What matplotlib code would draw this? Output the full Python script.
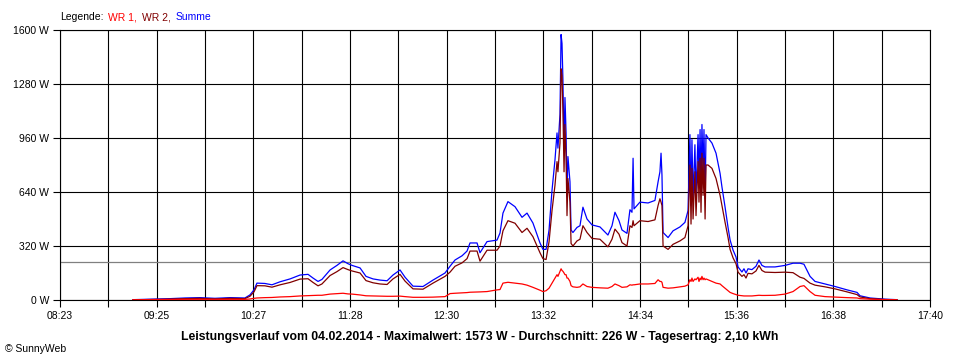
import numpy as np
import matplotlib
matplotlib.use("Agg")
import matplotlib.pyplot as plt

plt.rcParams['font.family'] = ['Liberation Sans', 'DejaVu Sans']

# Zeit in Minuten nach Mitternacht
zeit = [549.7, 560.6, 573.4, 583.0, 592.6, 602.2, 611.8, 621.4, 624.6, 627.2,
        629.1, 634.2, 638.7, 643.9, 650.3, 656.7, 661.8, 665.0, 668.2, 670.7,
        675.9, 680.3, 684.2, 687.4, 690.0, 695.1, 698.9, 703.4, 707.9, 712.4,
        716.2, 720.7, 723.9, 729.0, 735.4, 741.8, 749.5, 752.7, 755.9, 760.4,
        763.6, 765.5, 770.0, 771.9, 776.4, 782.8, 784.7, 786.6, 789.8, 794.3,
        798.8, 802.0, 805.8, 810.3, 812.2, 814.2, 816.1, 818.0, 819.9, 821.2,
        821.8, 823.1, 823.8, 824.4, 825.0, 825.7, 826.3, 827.0, 827.6, 828.2,
        829.5, 830.2, 831.4, 834.0, 835.9, 837.8, 840.4, 843.6, 848.7, 853.8,
        856.4, 858.3, 860.9, 862.8, 866.0, 867.9, 869.2, 869.9, 870.5, 874.3,
        879.5, 883.9, 885.9, 887.1, 887.8, 888.4, 889.1, 892.3, 895.5, 899.9,
        903.1, 905.1, 906.3, 907.0, 907.6, 908.3, 909.5, 910.2, 911.5, 912.1,
        912.8, 913.4, 914.0, 914.7, 915.3, 916.0, 916.6, 917.9, 920.4, 923.0,
        925.6, 926.8, 928.8, 930.7, 932.0, 933.9, 935.8, 937.1, 939.6, 940.9,
        942.2, 943.5, 946.0, 948.6, 950.5, 952.4, 954.4, 960.8, 967.2, 972.3,
        976.8, 979.3, 983.2, 986.4, 992.8, 999.2, 1006.9, 1013.3, 1015.2, 1021.6,
        1031.2, 1038.9]

summe = [2, 5, 8, 12, 14, 10, 14, 12, 30, 60,
         100, 98, 90, 108, 125, 148, 152, 130, 110, 122,
         178, 205, 232, 215, 205, 190, 140, 125, 118, 114,
         148, 178, 135, 82, 80, 118, 160, 200, 237, 262,
         290, 338, 338, 280, 346, 355, 397, 515, 583, 553,
         490, 515, 456, 338, 300, 300, 415, 650, 830, 990,
         900, 1100, 1573, 1520, 1300, 900, 1200, 990, 610, 850,
         700, 415, 400, 430, 440, 550, 480, 445, 433, 385,
         440, 520, 470, 415, 395, 535, 520, 840, 540, 580,
         575, 590, 700, 760, 870, 740, 400, 370, 410, 433,
         460, 530, 980, 560, 950, 600, 920, 620, 980, 700,
         1010, 640, 1040, 760, 1010, 600, 980, 960, 930, 870,
         750, 670, 550, 430, 356, 296, 255, 196, 166, 185,
         160, 185, 180, 200, 237, 205, 196, 196, 205, 218,
         218, 212, 140, 110, 95, 80, 60, 45, 25, 12,
         5, 2]

wr2 = [1, 3, 5, 8, 10, 6, 10, 8, 22, 48,
       85, 84, 76, 90, 104, 124, 126, 104, 84, 95,
       145, 168, 192, 180, 172, 160, 115, 102, 95, 92,
       125, 152, 112, 66, 64, 100, 140, 165, 200, 220,
       245, 290, 290, 230, 295, 295, 320, 410, 470, 455,
       400, 425, 375, 280, 245, 240, 345, 530, 680, 820,
       760, 930, 1370, 1330, 1120, 760, 1040, 840, 500, 720,
       580, 335, 320, 350, 360, 440, 400, 365, 360, 315,
       360, 420, 390, 340, 320, 440, 430, 470, 440, 470,
       465, 475, 560, 600, 580, 560, 320, 300, 330, 350,
       370, 440, 800, 450, 780, 480, 760, 500, 820, 580,
       840, 520, 870, 620, 840, 480, 800, 800, 780, 720,
       620, 560, 460, 370, 300, 250, 215, 165, 140, 150,
       130, 158, 155, 172, 205, 175, 165, 163, 165, 162,
       135, 128, 100, 88, 78, 66, 48, 32, 18, 8,
       3, 1]

wr1 = [1, 2, 3, 4, 4, 4, 4, 4, 6, 10,
       12, 14, 15, 18, 20, 24, 26, 27, 28, 28,
       35, 38, 40, 36, 35, 30, 25, 24, 23, 22,
       22, 23, 20, 16, 16, 17, 20, 38, 40, 42,
       44, 46, 47, 48, 50, 60, 62, 100, 105, 100,
       95, 88, 75, 58, 50, 55, 70, 100, 130, 150,
       140, 170, 185, 175, 170, 160, 150, 150, 130, 130,
       110, 85, 78, 75, 78, 95, 80, 75, 72, 70,
       80, 95, 85, 75, 78, 90, 88, 90, 90, 95,
       95, 98, 120, 110, 110, 105, 75, 70, 72, 78,
       82, 90, 120, 110, 130, 110, 125, 120, 135, 110,
       130, 120, 140, 120, 130, 120, 125, 120, 110, 100,
       95, 85, 70, 55, 45, 38, 32, 28, 25, 24,
       24, 24, 24, 26, 28, 27, 27, 28, 35, 50,
       80, 85, 50, 28, 20, 17, 14, 12, 8, 5,
       2, 1]

durchschnitt = 226
x_labels = ['08:23', '09:25', '10:27', '11:28', '12:30', '13:32', '14:34', '15:36', '16:38', '17:40']
y_ticks = [0, 320, 640, 960, 1280, 1600]

t_start, t_end = 503, 1060

fig = plt.figure(figsize=(9.6, 3.6), dpi=100)
ax = fig.add_axes([60 / 960, 60 / 360, 870 / 960, 270 / 360])

ax.plot(zeit, summe, color='#0000ff', lw=0.9, zorder=3)
ax.plot(zeit, wr2, color='#800000', lw=0.9, zorder=4)
ax.plot(zeit, wr1, color='#ff0000', lw=0.9, zorder=5)
ax.axhline(durchschnitt, color='#808080', lw=0.9, zorder=2)

ax.set_xlim(t_start, t_end)
ax.set_ylim(0, 1600)

minor = np.linspace(t_start, t_end, 2 * len(x_labels) - 1)
ax.set_xticks(minor)
ax.set_xticklabels([x_labels[i // 2] if i % 2 == 0 else '' for i in range(len(minor))])
ax.set_yticks(y_ticks)
ax.set_yticklabels([f'{v} W' for v in y_ticks])
ax.tick_params(axis='both', length=5, width=0.8, color='black', labelsize=7.5, pad=3)
ax.grid(True, color='black', lw=0.8, zorder=1)
ax.set_axisbelow(True)
for s in ax.spines.values():
    s.set_linewidth(0.8)

# Legende oben
fig.text(60 / 960, 1 - 17 / 360, 'Legende:', fontsize=7.5, va='center', ha='left')
fig.text(108 / 960, 1 - 17 / 360, 'WR 1,', fontsize=7.5, va='center', ha='left', color='#ff0000')
fig.text(142 / 960, 1 - 17 / 360, 'WR 2,', fontsize=7.5, va='center', ha='left', color='#800000')
fig.text(176 / 960, 1 - 17 / 360, 'Summe', fontsize=7.5, va='center', ha='left', color='#0000ff')

fig.text(0.5, 1 - 337 / 360,
         'Leistungsverlauf vom 04.02.2014 - Maximalwert: 1573 W - Durchschnitt: 226 W - Tagesertrag: 2,10 kWh',
         fontsize=8.8, fontweight='bold', ha='center', va='center')
fig.text(5 / 960, 1 - 349 / 360, '\u00a9 SunnyWeb', fontsize=7.5, ha='left', va='center')

fig.savefig('out.png', dpi=100)
